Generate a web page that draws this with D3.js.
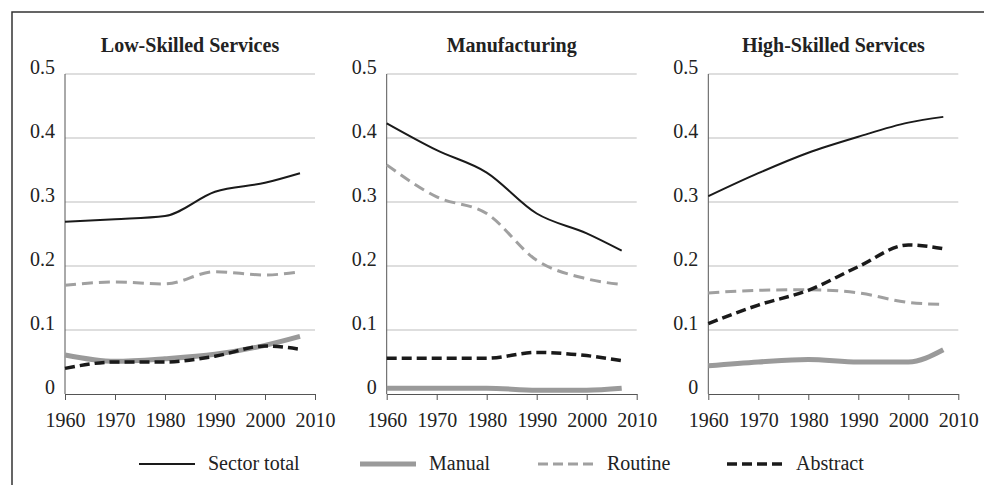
<!DOCTYPE html>
<html>
<head>
<meta charset="utf-8">
<script src="https://cdn.jsdelivr.net/npm/d3@7"></script>
<style>
  body { margin: 0; background: #fff; }
  svg text { font-family: "Liberation Serif", "Times New Roman", serif; fill: #222; }
  .axis path, .axis line { stroke: #555; }
  .axis text { font-size: 20px; }
</style>
</head>
<body>
<svg width="984" height="485"></svg>
<script>
'use strict'

var years = [1960, 1970, 1980, 1990, 2000, 2007];
var yearTicks = [1960, 1970, 1980, 1990, 2000, 2010];
var shareTicks = [0, 0.1, 0.2, 0.3, 0.4, 0.5];
var sectors = ["Low-Skilled Services", "Manufacturing", "High-Skilled Services"];
var seriesNames = ["Sector total", "Manual", "Routine", "Abstract"];

// one row per sector, order matches years
var sectorTotal = [
  [0.269, 0.273, 0.278, 0.316, 0.330, 0.345],
  [0.423, 0.381, 0.346, 0.282, 0.251, 0.224],
  [0.309, 0.345, 0.377, 0.402, 0.424, 0.433]
];
var manual = [
  [0.061, 0.051, 0.055, 0.062, 0.076, 0.090],
  [0.009, 0.009, 0.009, 0.006, 0.006, 0.009],
  [0.044, 0.050, 0.054, 0.050, 0.050, 0.069]
];
var routine = [
  [0.170, 0.175, 0.172, 0.191, 0.186, 0.191],
  [0.358, 0.308, 0.282, 0.209, 0.180, 0.171],
  [0.158, 0.162, 0.163, 0.158, 0.143, 0.140]
];
var abstract = [
  [0.040, 0.050, 0.050, 0.059, 0.075, 0.070],
  [0.056, 0.056, 0.056, 0.065, 0.060, 0.052],
  [0.110, 0.139, 0.162, 0.199, 0.233, 0.227]
];

var styles = [
  { color: "#1a1a1a", width: 2, dash: null },
  { color: "#9a9a9a", width: 5, dash: null },
  { color: "#a0a0a0", width: 3, dash: "11,6" },
  { color: "#1a1a1a", width: 3.5, dash: "10,5" }
];

var svg = d3.select("svg");

// outer frame (runs off the right and bottom edge)
svg.append("rect")
  .attr("x", 12)
  .attr("y", 12)
  .attr("width", 1000)
  .attr("height", 500)
  .attr("fill", "none")
  .attr("stroke", "#333")
  .attr("stroke-width", 1.5);

var panelLeft = [65, 386.7, 708.3],
  panelWidth = 250,
  plotTop = 74,
  plotBottom = 394;

var y = d3.scaleLinear().domain([0, 0.5]).range([plotBottom, plotTop]);

sectors.forEach(function(name, s) {
  var x = d3.scaleLinear().domain([1960, 2010]).range([panelLeft[s], panelLeft[s] + panelWidth]);
  var g = svg.append("g");

  // gridlines
  g.selectAll(".grid")
    .data(shareTicks.slice(1))
    .enter()
    .append("line")
    .attr("x1", x(1960))
    .attr("x2", x(2010))
    .attr("y1", function(d) { return y(d); })
    .attr("y2", function(d) { return y(d); })
    .attr("stroke", "#bdbdbd")
    .attr("stroke-width", 1);

  // y axis line + labels (baseline sits on the gridline)
  g.append("line")
    .attr("x1", x(1960)).attr("x2", x(1960))
    .attr("y1", y(0.5)).attr("y2", y(0))
    .attr("stroke", "#555");

  g.selectAll(".ylab")
    .data(shareTicks)
    .enter()
    .append("text")
    .attr("x", x(1960) - 10)
    .attr("y", function(d) { return y(d); })
    .attr("text-anchor", "end")
    .style("font-size", "20px")
    .text(function(d) { return d === 0 ? "0" : d3.format(".1f")(d); });

  var xAxis = d3.axisBottom(x)
    .tickValues(yearTicks)
    .tickFormat(d3.format("d"))
    .tickSize(6)
    .tickSizeOuter(0)
    .tickPadding(13);

  g.append("g")
    .attr("class", "axis")
    .attr("transform", "translate(0," + plotBottom + ")")
    .call(xAxis);

  g.append("text")
    .attr("x", x(1985))
    .attr("y", 52)
    .attr("text-anchor", "middle")
    .style("font-size", "20px")
    .style("font-weight", "bold")
    .text(name);

  var line = d3.line()
    .curve(d3.curveMonotoneX)
    .x(function(d, i) { return x(years[i]); })
    .y(function(d) { return y(d); });

  var series = [sectorTotal[s], manual[s], routine[s], abstract[s]];
  // draw in this order so the black lines sit on top of the grey ones
  [1, 2, 0, 3].forEach(function(k) {
    g.append("path")
      .datum(series[k])
      .attr("d", line)
      .attr("fill", "none")
      .attr("stroke", styles[k].color)
      .attr("stroke-width", styles[k].width)
      .attr("stroke-dasharray", styles[k].dash);
  });
});

// legend
var legendX = [139, 360, 538, 727];
var legend = svg.append("g");
var items = legend.selectAll(".item")
  .data(seriesNames)
  .enter()
  .append("g");

items.append("line")
  .attr("x1", function(d, i) { return legendX[i]; })
  .attr("x2", function(d, i) { return legendX[i] + 56; })
  .attr("y1", 464)
  .attr("y2", 464)
  .attr("stroke", function(d, i) { return styles[i].color; })
  .attr("stroke-width", function(d, i) { return i === 0 ? 2 : styles[i].width; })
  .attr("stroke-dasharray", function(d, i) { return styles[i].dash ? "10,5" : null; });

items.append("text")
  .attr("x", function(d, i) { return legendX[i] + 69; })
  .attr("y", 470)
  .style("font-size", "20px")
  .text(function(d) { return d; });
</script>
</body>
</html>
